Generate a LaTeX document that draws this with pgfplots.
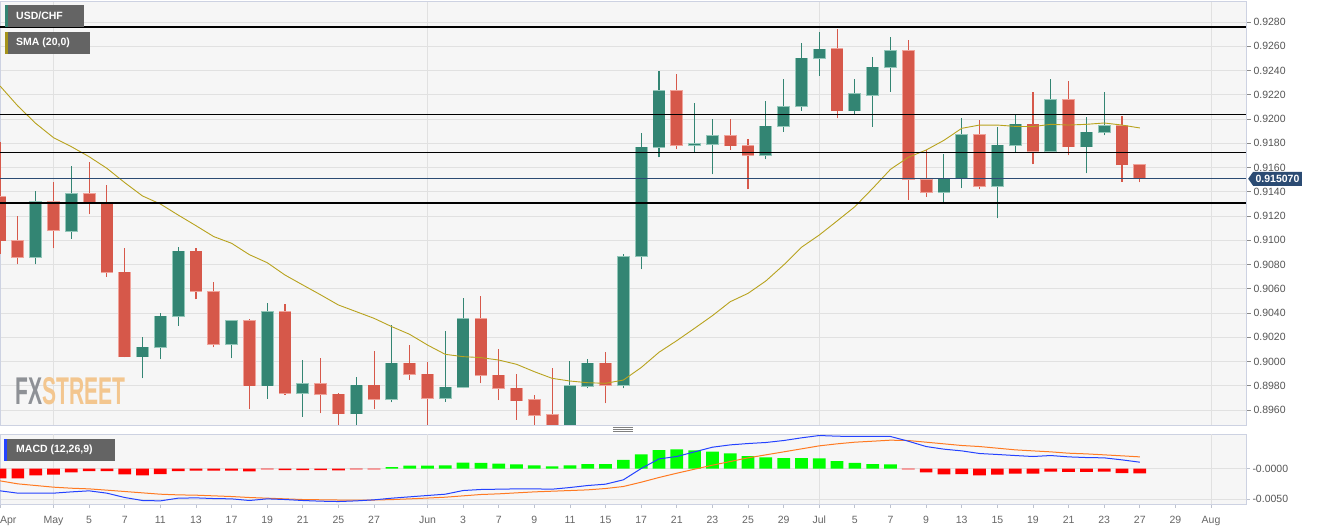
\documentclass[border=0pt]{standalone}
\usepackage{fontspec}
\setmainfont{Liberation Sans}
\usepackage{graphicx}
\usepackage{pgfplots}
\pgfplotsset{compat=1.18}
\usepackage{pgfplotstable}
\usetikzlibrary{shapes.symbols}

\definecolor{cup}{HTML}{338573}
\definecolor{cupb}{HTML}{93C7B9}
\definecolor{cdown}{HTML}{D6584A}
\definecolor{cdownb}{HTML}{F0A39A}
\definecolor{csma}{HTML}{B8A31E}
\definecolor{cmacd}{HTML}{2442FF}
\definecolor{csig}{HTML}{FF7A22}
\definecolor{hgreen}{HTML}{00FF00}
\definecolor{hred}{HTML}{FF0000}
\definecolor{hpale}{HTML}{F4A9A9}
\definecolor{plotbg}{HTML}{F6F6F6}
\definecolor{gridc}{HTML}{E1E1E1}
\definecolor{framec}{HTML}{CDD2E2}
\definecolor{tickc}{HTML}{555555}
\definecolor{pricebg}{HTML}{2B4B73}
\definecolor{legbg}{HTML}{646464}
\definecolor{fxgray}{HTML}{8E9196}
\definecolor{fxorange}{HTML}{F3C68F}

% bullish candles
\pgfplotstableread{
i open high low close
-1 0.90862 0.91406 0.90801 0.91315
1 0.91076 0.91612 0.91013 0.91381
5 0.90040 0.90199 0.89861 0.90117
6 0.90117 0.90397 0.90018 0.90372
7 0.90375 0.90944 0.90296 0.90909
10 0.90144 0.90340 0.90026 0.90334
12 0.89801 0.90480 0.89691 0.90408
14 0.89737 0.90012 0.89545 0.89814
17 0.89570 0.89875 0.89460 0.89803
19 0.89688 0.90301 0.89663 0.89985
22 0.89696 0.90252 0.89669 0.89787
23 0.89787 0.90521 0.89779 0.90353
29 0.89440 0.90004 0.89400 0.89798
30 0.89798 0.90021 0.89779 0.89985
32 0.89803 0.90887 0.89779 0.90865
33 0.90870 0.91882 0.90760 0.91766
34 0.91766 0.92396 0.91684 0.92231
36 0.91786 0.92129 0.91731 0.91796
37 0.91790 0.92000 0.91544 0.91860
40 0.91703 0.92148 0.91667 0.91940
41 0.91940 0.92327 0.91896 0.92099
42 0.92104 0.92624 0.92066 0.92500
43 0.92500 0.92715 0.92357 0.92575
45 0.92069 0.92327 0.92041 0.92206
46 0.92195 0.92514 0.91937 0.92426
47 0.92426 0.92674 0.92225 0.92561
50 0.91398 0.91709 0.91318 0.91508
51 0.91508 0.92006 0.91428 0.91871
53 0.91447 0.91931 0.91181 0.91783
54 0.91783 0.92039 0.91728 0.91956
56 0.91736 0.92327 0.91730 0.92157
58 0.91772 0.92014 0.91552 0.91890
59 0.91890 0.92220 0.91865 0.91945
}\upcandles

% bearish candles
\pgfplotstableread{
i open high low close
-3 0.91359 0.91813 0.90887 0.90997
-2 0.90997 0.91200 0.90801 0.90862
0 0.91315 0.91478 0.90933 0.91082
2 0.91381 0.91643 0.91214 0.91310
3 0.91304 0.91456 0.90700 0.90735
4 0.90735 0.90933 0.90035 0.90040
8 0.90909 0.90933 0.90513 0.90581
9 0.90576 0.90658 0.90117 0.90144
11 0.90334 0.90348 0.89606 0.89801
13 0.90408 0.90474 0.89726 0.89737
15 0.89814 0.90026 0.89573 0.89729
16 0.89729 0.89743 0.89450 0.89570
18 0.89803 0.90087 0.89606 0.89688
20 0.89985 0.90133 0.89847 0.89897
21 0.89894 0.89996 0.89470 0.89696
24 0.90353 0.90540 0.89820 0.89886
25 0.89886 0.90100 0.89682 0.89779
26 0.89779 0.89894 0.89520 0.89677
27 0.89682 0.89721 0.89470 0.89560
28 0.89560 0.89944 0.89400 0.89440
31 0.89985 0.90081 0.89655 0.89803
35 0.92231 0.92371 0.91750 0.91786
38 0.91860 0.92000 0.91744 0.91780
39 0.91777 0.91832 0.91420 0.91703
44 0.92580 0.92740 0.92006 0.92069
48 0.92561 0.92652 0.91332 0.91502
49 0.91497 0.91744 0.91359 0.91398
52 0.91871 0.91992 0.91420 0.91447
55 0.91956 0.92220 0.91626 0.91736
57 0.92157 0.92311 0.91700 0.91772
60 0.91945 0.92022 0.91483 0.91623
61 0.91623 0.91623 0.91478 0.91507
}\downcandles

% SMA(20)
\pgfplotstableread{
i sma
-3 0.92272
-2 0.92107
-1 0.91964
0 0.91846
1 0.91772
2 0.91689
3 0.91593
4 0.91475
5 0.91365
6 0.91299
7 0.91208
8 0.91120
9 0.91030
10 0.90975
11 0.90881
12 0.90815
13 0.90713
14 0.90631
15 0.90550
16 0.90466
17 0.90411
18 0.90356
19 0.90287
20 0.90224
21 0.90136
22 0.90059
23 0.90040
24 0.90032
25 0.90012
26 0.89977
27 0.89916
28 0.89861
29 0.89839
30 0.89825
31 0.89820
32 0.89847
33 0.89950
34 0.90076
35 0.90172
36 0.90274
37 0.90378
38 0.90493
39 0.90562
40 0.90664
41 0.90796
42 0.90942
43 0.91043
44 0.91159
45 0.91277
46 0.91428
47 0.91585
48 0.91684
49 0.91744
50 0.91824
51 0.91923
52 0.91950
53 0.91950
54 0.91939
55 0.91937
56 0.91956
57 0.91950
58 0.91956
59 0.91967
60 0.91950
61 0.91926
}\smadata

% MACD (12,26,9)
\pgfplotstableread{
i macd signal hist
-3 -0.00362 -0.00199 -0.00158
-2 -0.00400 -0.00248 -0.00158
-1 -0.00400 -0.00275 -0.00109
0 -0.00400 -0.00302 -0.00098
1 -0.00379 -0.00319 -0.00060
2 -0.00362 -0.00330 -0.00038
3 -0.00400 -0.00351 -0.00038
4 -0.00471 -0.00373 -0.00093
5 -0.00520 -0.00395 -0.00109
6 -0.00526 -0.00417 -0.00087
7 -0.00482 -0.00428 -0.00038
8 -0.00477 -0.00433 -0.00033
9 -0.00488 -0.00444 -0.00033
10 -0.00493 -0.00455 -0.00033
11 -0.00520 -0.00471 -0.00044
12 -0.00493 -0.00482 -0.00011
13 -0.00504 -0.00493 -0.00022
14 -0.00520 -0.00504 -0.00022
15 -0.00531 -0.00508 -0.00022
16 -0.00537 -0.00512 -0.00027
17 -0.00526 -0.00514 -0.00011
18 -0.00509 -0.00512 -0.00010
19 -0.00482 -0.00505 0.00027
20 -0.00460 -0.00493 0.00049
21 -0.00438 -0.00480 0.00049
22 -0.00417 -0.00466 0.00054
23 -0.00357 -0.00444 0.00098
24 -0.00340 -0.00422 0.00093
25 -0.00335 -0.00411 0.00082
26 -0.00330 -0.00395 0.00071
27 -0.00330 -0.00379 0.00054
28 -0.00335 -0.00368 0.00038
29 -0.00308 -0.00357 0.00054
30 -0.00275 -0.00346 0.00076
31 -0.00253 -0.00324 0.00076
32 -0.00182 -0.00291 0.00142
33 0.00003 -0.00221 0.00235
34 0.00160 -0.00144 0.00305
35 0.00199 -0.00074 0.00316
36 0.00275 -0.00008 0.00300
37 0.00351 0.00057 0.00278
38 0.00389 0.00117 0.00251
39 0.00411 0.00177 0.00207
40 0.00428 0.00226 0.00185
41 0.00460 0.00275 0.00174
42 0.00504 0.00324 0.00174
43 0.00542 0.00373 0.00169
44 0.00531 0.00406 0.00125
45 0.00526 0.00433 0.00093
46 0.00526 0.00449 0.00076
47 0.00526 0.00466 0.00071
48 0.00449 0.00460 -0.00010
49 0.00362 0.00433 -0.00060
50 0.00319 0.00406 -0.00093
51 0.00291 0.00379 -0.00090
52 0.00248 0.00362 -0.00109
53 0.00232 0.00335 -0.00098
54 0.00215 0.00308 -0.00082
55 0.00199 0.00291 -0.00082
56 0.00215 0.00275 -0.00049
57 0.00193 0.00253 -0.00054
58 0.00182 0.00242 -0.00054
59 0.00177 0.00226 -0.00049
60 0.00144 0.00210 -0.00071
61 0.00106 0.00193 -0.00076
}\macddata

\pgfplotsset{
  candlepart/.style 2 args={draw=none, mark=none, forget plot,
    error bars/.cd, y dir=plus, y explicit, error mark=none,
    error bar style={draw=#1, solid, line width=#2}},
}

\begin{document}
\begin{tikzpicture}
\useasboundingbox (0pt,0pt) rectangle (1323pt,529pt);
\fill[white] (0pt,0pt) rectangle (1323pt,529pt);

% ---------------- price panel ----------------
\begin{axis}[
  at={(0pt,104pt)}, anchor=south west,
  scale only axis, width=1246pt, height=424pt,
  xmin=-3.004, xmax=66.96,
  ymin=0.894763, ymax=0.929732,
  axis background/.style={fill=plotbg},
  axis line style={framec, line width=0.8pt},
  clip mode=individual,
  xtick={0,21,43,65}, xticklabels={},
  x tick style={draw=none},
  xmajorgrids, ymajorgrids,
  grid style={gridc, line width=0.8pt},
  ytick={0.896,0.898,0.900,0.902,0.904,0.906,0.908,0.910,0.912,0.914,0.916,0.918,0.920,0.922,0.924,0.926,0.928},
  yticklabels={0.8960,0.8980,0.9000,0.9020,0.9040,0.9060,0.9080,0.9100,0.9120,0.9140,0.9160,0.9180,0.9200,0.9220,0.9240,0.9260,0.9280},
  ytick pos=right, yticklabel pos=right,
  tick align=outside, major tick length=5pt,
  y tick style={tickc!70, line width=0.8pt},
  yticklabel style={font=\fontsize{10.5}{12}\selectfont, text=tickc, anchor=west, xshift=-1pt},
]
% wicks
\addplot[candlepart={cup}{1.1pt}] table[x=i, y=low, y error expr=\thisrow{high}-\thisrow{low}]{\upcandles};
\addplot[candlepart={cdown}{1.1pt}] table[x=i, y=low, y error expr=\thisrow{high}-\thisrow{low}]{\downcandles};
% bodies (light rim, then fill)
\addplot[candlepart={cupb}{12.8pt}] table[x=i, y expr=\thisrow{open}-0.00006, y error expr=\thisrow{close}-\thisrow{open}+0.00012]{\upcandles};
\addplot[candlepart={cup}{11.2pt}] table[x=i, y=open, y error expr=\thisrow{close}-\thisrow{open}]{\upcandles};
\addplot[candlepart={cdownb}{12.8pt}] table[x=i, y expr=\thisrow{close}-0.00006, y error expr=\thisrow{open}-\thisrow{close}+0.00012]{\downcandles};
\addplot[candlepart={cdown}{11.2pt}] table[x=i, y=close, y error expr=\thisrow{open}-\thisrow{close}]{\downcandles};
% SMA
\addplot[csma, line width=0.9pt, mark=none] table[x=i, y=sma]{\smadata};
% horizontal levels
\addplot[black, line width=1.1pt, mark=none] coordinates {(-4,0.92759) (68,0.92759)};
\addplot[black, line width=1.1pt, mark=none] coordinates {(-4,0.92039) (68,0.92039)};
\addplot[black, line width=1.1pt, mark=none] coordinates {(-4,0.91725) (68,0.91725)};
\addplot[black, line width=1.1pt, mark=none] coordinates {(-4,0.91307) (68,0.91307)};
\addplot[pricebg, line width=0.9pt, mark=none] coordinates {(-4,0.91507) (66.96,0.91507)};
\coordinate (pricept) at (axis cs:66.96,0.91507);
\end{axis}

% ---------------- MACD panel ----------------
\begin{axis}[
  at={(0pt,25pt)}, anchor=south west,
  scale only axis, width=1246pt, height=69.7pt,
  xmin=-3.004, xmax=66.96,
  ymin=-0.00577, ymax=0.00562,
  scaled y ticks=false,
  axis background/.style={fill=plotbg},
  axis line style={framec, line width=0.8pt},
  ymajorgrids,
  grid style={gridc, line width=0.8pt},
  ytick={0,-0.005}, yticklabels={-0.0000,-0.0050},
  ytick pos=right, yticklabel pos=right,
  xtick pos=bottom,
  tick align=outside, major tick length=4pt,
  tick style={framec!80!gray, line width=0.8pt},
  yticklabel style={font=\fontsize{10.5}{12}\selectfont, text=tickc, anchor=west, xshift=-1pt},
  xtick={-3,0,2,4,6,8,10,12,14,16,18,21,23,25,27,29,31,33,35,37,39,41,43,45,47,49,51,53,55,57,59,61,63,65},
  xticklabels={\rlap{Apr},May,5,7,11,13,17,19,21,25,27,Jun,3,7,9,11,15,17,21,23,25,29,Jul,5,7,9,13,15,19,21,23,27,29,Aug},
  xticklabel style={font=\fontsize{10.5}{12}\selectfont, text=tickc!90, anchor=base, yshift=-16pt},
  extra x ticks={0,21,43,65}, extra x tick labels={},
  extra x tick style={grid=major, major tick length=0pt},
]
\addplot[ybar, bar width=12.7pt, bar shift=0pt, fill=hgreen, draw=none, restrict y to domain=0:1] table[x=i, y=hist]{\macddata};
\addplot[ybar, bar width=12.7pt, bar shift=0pt, fill=hred, draw=none, restrict y to domain=-1:0] table[x=i, y=hist]{\macddata};
\addplot[ybar, bar width=12.7pt, bar shift=0pt, fill=hpale, draw=none] coordinates {(18,-0.00010) (48,-0.00010)};
\addplot[csig, line width=1pt, mark=none] table[x=i, y=signal]{\macddata};
\addplot[cmacd, line width=1pt, mark=none] table[x=i, y=macd]{\macddata};
\end{axis}

% current price tag
\node[signal, signal to=west, signal pointer angle=110, fill=pricebg, text=white,
      font=\bfseries\fontsize{10.5}{12}\selectfont, inner xsep=2.5pt, inner ysep=2pt,
      minimum height=14pt, anchor=west] at ([xshift=2pt]pricept) {0.915070};

% legend boxes
\fill[legbg] (5pt,502pt) rectangle (84pt,524pt);
\fill[cup] (5pt,502pt) rectangle (8pt,524pt);
\node[anchor=west, text=white, font=\bfseries\fontsize{10.5}{12}\selectfont, inner sep=0pt] at (16pt,513pt) {USD/CHF};
\fill[legbg] (5pt,475pt) rectangle (90pt,497pt);
\fill[csma!90!black] (5pt,475pt) rectangle (8pt,497pt);
\node[anchor=west, text=white, font=\bfseries\fontsize{10.5}{12}\selectfont, inner sep=0pt] at (16pt,486pt) {SMA (20,0)};
\fill[legbg] (4pt,68pt) rectangle (115pt,90pt);
\fill[cmacd] (4pt,68pt) rectangle (7pt,90pt);
\node[anchor=west, text=white, font=\bfseries\fontsize{10.5}{12}\selectfont, inner sep=0pt] at (16pt,79pt) {MACD (12,26,9)};

% watermark
\node[anchor=south west, inner sep=0pt] at (15pt,124pt) {\resizebox{110pt}{27pt}{\bfseries\textcolor{fxgray}{FX}\textcolor{fxorange}{STREET}}};

% panel grip
\foreach \yy in {97.5,99.5,101.5} {\draw[gray, line width=0.6pt] (613pt,\yy pt) -- (633pt,\yy pt);}
\end{tikzpicture}
\end{document}
